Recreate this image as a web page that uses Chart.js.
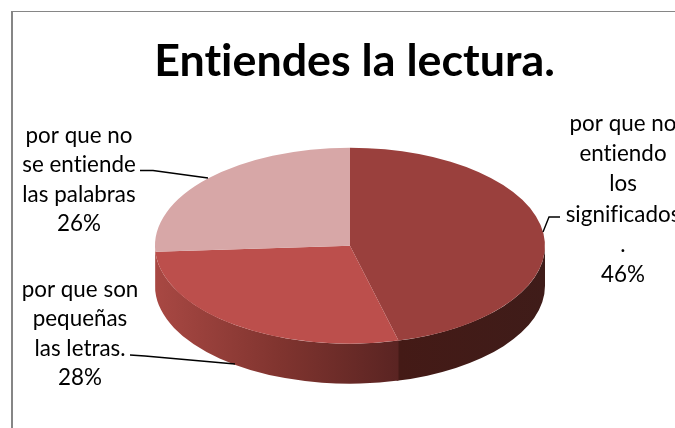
<!DOCTYPE html>
<html lang="es">
<head>
<meta charset="utf-8">
<title>Entiendes la lectura.</title>
<script src="https://cdn.jsdelivr.net/npm/chart.js@4"></script>
<style>
  html, body { margin: 0; background: #fff; overflow: hidden; width: 675px; height: 428px; }
  #wrap { position: absolute; left: 0; top: 0; width: 675px; height: 428px; overflow: hidden; }
  #frame { position: absolute; left: 11px; top: 11px; width: 700px; height: 430px; border-left: 2px solid #868686; border-top: 1px solid #868686; }
  canvas { position: absolute; left: 0; top: 0; }
</style>
</head>
<body>
<div id="wrap">
  <div id="frame"></div>
  <canvas id="pie" width="709" height="428"></canvas>
</div>
<script>
// ===== 数据 =====
const chartTitle = 'Entiendes la lectura.';
const categories = ['por que no entiendo los significados.', 'por que son pequeñas las letras.', 'por que no se entiende las palabras'];
const values = [46, 28, 26];
const sliceLines = [
  ['por que no', 'entiendo', 'los', 'significados', '.'],
  ['por que son', 'pequeñas', 'las letras.'],
  ['por que no', 'se entiende', 'las palabras'],
];
const topColors = ['#9a403d', '#bc4f4c', '#d7a7a7'];

// ===== 版式 =====
const pie3d = { x: 350, y: 245.7, rx: 195, ry: 98, depth: 40 };
const labelFont = '22.4px Lato, "Open Sans", sans-serif';
const labelLayout = [
  { x: 623, y: 131, step: 30.2 },
  { x: 80, y: 297, step: 29.4 },
  { x: 79, y: 143, step: 29.4 },
];
const leaders = [
  [[560, 217], [549, 217], [543, 232]],
  [[130, 355], [145, 356], [235, 364]],
  [[140, 170.5], [153, 170.5], [208, 178]],
];
const wallStops = [
  [[398, '#441a16'], [545, '#3f1c19']],
  [[156, '#a84843'], [280, '#80342f'], [398, '#5a2422']],
  [[150, '#a84843'], [160, '#a84843']],
];

// 把圆饼压成椭圆并画出侧壁
const pie3dPlugin = {
  id: 'pie3d',
  beforeDraw(chart) {
    chart.ctx.letterSpacing = '0.01px'; // 关掉 Lato 的 ti 连字
  },
  beforeDatasetsDraw(chart) {
    const { ctx } = chart;
    const arcs = chart.getDatasetMeta(0).data;
    const { x, y, rx, ry, depth } = pie3d;
    arcs.forEach((arc, i) => {
      const from = Math.max(arc.startAngle, 0);
      const to = Math.min(arc.endAngle + 0.01, Math.PI);
      if (to <= from) return;
      const stops = wallStops[i];
      const x0 = stops[0][0];
      const x1 = stops[stops.length - 1][0];
      const grad = ctx.createLinearGradient(x0, 0, x1, 0);
      stops.forEach(([sx, c]) => grad.addColorStop((sx - x0) / (x1 - x0), c));
      ctx.beginPath();
      ctx.ellipse(x, y, rx, ry, 0, from, to);
      ctx.ellipse(x, y + depth, rx, ry, 0, to, from, true);
      ctx.closePath();
      ctx.fillStyle = grad;
      ctx.fill();
    });
    const a = arcs[0];
    ctx.save();
    ctx.translate(x, y);
    ctx.scale(rx / a.outerRadius, ry / a.outerRadius);
    ctx.translate(-a.x, -a.y);
  },
  afterDatasetsDraw(chart) {
    const { ctx } = chart;
    ctx.restore();
    // 引线
    ctx.strokeStyle = '#000';
    ctx.lineWidth = 1.4;
    leaders.forEach((pts) => {
      ctx.beginPath();
      pts.forEach(([px, py], i) => (i ? ctx.lineTo(px, py) : ctx.moveTo(px, py)));
      ctx.stroke();
    });
    // 标签
    ctx.fillStyle = '#000';
    ctx.font = labelFont;
    ctx.textAlign = 'center';
    ctx.textBaseline = 'alphabetic';
    sliceLines.forEach((lines, i) => {
      const l = labelLayout[i];
      [...lines, values[i] + '%'].forEach((t, n) => ctx.fillText(t, l.x, l.y + n * l.step));
    });
  },
};

new Chart(document.getElementById('pie'), {
  type: 'pie',
  data: {
    labels: categories,
    datasets: [{ data: values, backgroundColor: topColors, borderWidth: 0, clip: false }],
  },
  options: {
    responsive: false,
    animation: false,
    events: [],
    plugins: {
      legend: { display: false },
      tooltip: { enabled: false },
      title: {
        display: true,
        text: chartTitle,
        color: '#000',
        font: { family: 'Lato, "Open Sans", sans-serif', size: 44.8, weight: 'bold' },
        padding: { top: 35, bottom: 0 },
      },
    },
  },
  plugins: [pie3dPlugin],
});
</script>
</body>
</html>
